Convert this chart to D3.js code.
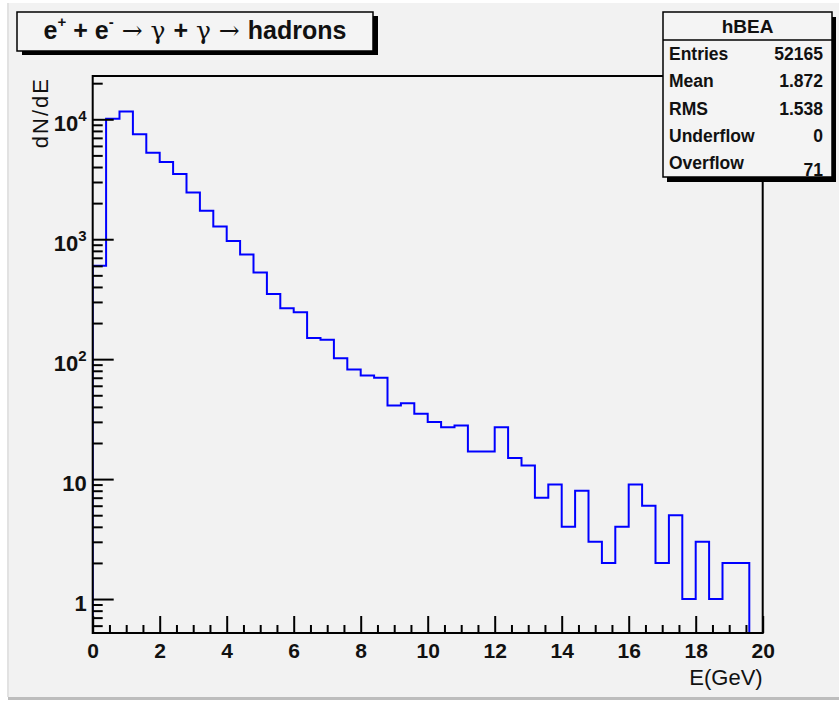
<!DOCTYPE html>
<html>
<head>
<meta charset="utf-8">
<script src="https://cdn.jsdelivr.net/npm/d3@7"></script>
<style>
  body { margin: 0; background: #fff; }
  text { font-family: "Liberation Sans", Arial, sans-serif; fill: #111; }
</style>
</head>
<body>
<script>
// bin lower edges (GeV), bin width 0.4
let binEdges = [0, 0.4, 0.8, 1.2, 1.6, 2, 2.4, 2.8, 3.2, 3.6,
    4, 4.4, 4.8, 5.2, 5.6, 6, 6.4, 6.8, 7.2, 7.6,
    8, 8.4, 8.8, 9.2, 9.6, 10, 10.4, 10.8, 11.2, 11.6,
    12, 12.4, 12.8, 13.2, 13.6, 14, 14.4, 14.8, 15.2, 15.6,
    16, 16.4, 16.8, 17.2, 17.6, 18, 18.4, 18.8, 19.2, 19.6]
let binWidth = 0.4

// dN/dE counts
let counts = [600, 10100, 11600, 7500, 5270, 4400, 3500, 2450, 1730, 1275,
    968, 745, 527, 350, 266, 246, 150, 145, 102, 82,
    73, 70, 41, 43, 35, 30, 27, 28, 17, 17,
    27, 15, 13, 7, 9, 4, 8, 3, 2, 4,
    9, 6, 2, 5, 1, 3, 1, 2, 2, 0]

let xMajor = [0, 2, 4, 6, 8, 10, 12, 14, 16, 18, 20]
let xMinor = [0.5, 1, 1.5, 2.5, 3, 3.5, 4.5, 5, 5.5, 6.5, 7, 7.5, 8.5, 9, 9.5,
    10.5, 11, 11.5, 12.5, 13, 13.5, 14.5, 15, 15.5, 16.5, 17, 17.5, 18.5, 19, 19.5]
let yMajor = [1, 10, 100, 1000, 10000]
let yMajorLabels = [['1', ''], ['10', ''], ['10', '2'], ['10', '3'], ['10', '4']]
let yMinor = [0.6, 0.7, 0.8, 0.9, 2, 3, 4, 5, 6, 7, 8, 9, 20, 30, 40, 50, 60, 70, 80, 90,
    200, 300, 400, 500, 600, 700, 800, 900, 2000, 3000, 4000, 5000, 6000, 7000, 8000, 9000, 20000]

let statNames = ['Entries', 'Mean', 'RMS', 'Underflow', 'Overflow']
let statValues = ['52165', '1.872', '1.538', '0', '71']

// frame geometry
let frameL = 92.7, frameR = 762.7, frameT = 76, frameB = 633

let svg = d3.select('body').append('svg')
    .attr('width', 839)
    .attr('height', 702)

// canvas background
svg.append('rect')
    .attr('x', 8).attr('y', 3).attr('width', 831).attr('height', 694)
    .attr('fill', '#f2f2f2')
svg.append('line')
    .attr('x1', 8).attr('x2', 8).attr('y1', 3).attr('y2', 697)
    .attr('stroke', '#e2e2e2').attr('stroke-width', 2)
svg.append('line')
    .attr('x1', 8).attr('x2', 839).attr('y1', 698.5).attr('y2', 698.5)
    .attr('stroke', '#bdbdbd').attr('stroke-width', 3)

// scales
let xScale = d3.scaleLinear()
    .domain([0, 20])
    .range([frameL, frameR])

let yScale = d3.scaleLog()
    .domain([0.521, 22960])
    .range([frameB, frameT])

svg.append('clipPath').attr('id', 'frameclip')
    .append('rect')
    .attr('x', frameL).attr('y', frameT)
    .attr('width', frameR - frameL).attr('height', frameB - frameT)

// histogram outline
let pts = [[0, yScale.domain()[0]]]
counts.forEach(function(c, i) {
    let v = c > 0 ? c : yScale.domain()[0]
    pts.push([binEdges[i], v])
    pts.push([binEdges[i] + binWidth, v])
})

let line = d3.line()
    .x(function(d) { return xScale(d[0]) })
    .y(function(d) { return yScale(d[1]) })

svg.append('path')
    .attr('d', line(pts))
    .attr('fill', 'none')
    .attr('stroke', '#0000ff')
    .attr('stroke-width', 2)
    .attr('clip-path', 'url(#frameclip)')

// frame
svg.append('rect')
    .attr('x', frameL).attr('y', frameT)
    .attr('width', frameR - frameL).attr('height', frameB - frameT)
    .attr('fill', 'none')
    .attr('stroke', '#000')
    .attr('stroke-width', 2)

// x axis
let xAxisMajor = svg.append('g')
    .attr('transform', 'translate(0,' + frameB + ')')
    .call(d3.axisBottom(xScale).tickValues(xMajor).tickSizeInner(-17).tickSizeOuter(0).tickPadding(0))
let xAxisMinor = svg.append('g')
    .attr('transform', 'translate(0,' + frameB + ')')
    .call(d3.axisBottom(xScale).tickValues(xMinor).tickSizeInner(-8).tickSizeOuter(0).tickFormat(''))

xAxisMajor.selectAll('text')
    .attr('y', 25).attr('dy', 0)
    .style('font-size', '21px').style('font-weight', 'bold')

// y axis
let yAxisMajor = svg.append('g')
    .attr('transform', 'translate(' + frameL + ',0)')
    .call(d3.axisLeft(yScale).tickValues(yMajor).tickSizeInner(-21).tickSizeOuter(0).tickPadding(6).tickFormat(''))
let yAxisMinor = svg.append('g')
    .attr('transform', 'translate(' + frameL + ',0)')
    .call(d3.axisLeft(yScale).tickValues(yMinor).tickSizeInner(-10).tickSizeOuter(0).tickFormat(''))

yAxisMajor.selectAll('text')
    .attr('dy', 11)
    .style('font-size', '22px').style('font-weight', 'bold')
    .each(function(d, i) {
        let t = d3.select(this)
        t.append('tspan').text(yMajorLabels[i][0])
        if (yMajorLabels[i][1] !== '') {
            t.append('tspan').attr('dy', -10).style('font-size', '15px').text(yMajorLabels[i][1])
        }
    })

svg.selectAll('.domain').remove()
svg.selectAll('.tick line').attr('stroke', '#000').attr('stroke-width', 2)

// axis titles
svg.append('text')
    .attr('x', frameR).attr('y', 685)
    .attr('text-anchor', 'end')
    .style('font-size', '22px')
    .text('E(GeV)')

svg.append('text')
    .attr('transform', 'translate(48,' + (frameT + 1) + ') rotate(-90)')
    .attr('text-anchor', 'end')
    .style('font-size', '22px')
    .attr('letter-spacing', 2)
    .text('dN/dE')

// title box
svg.append('rect')
    .attr('x', 22).attr('y', 16).attr('width', 356).attr('height', 39)
    .attr('fill', '#000')
svg.append('rect')
    .attr('x', 17).attr('y', 12).attr('width', 356).attr('height', 39)
    .attr('fill', '#f4f4f4').attr('stroke', '#000').attr('stroke-width', 1.5)

let title = svg.append('text')
    .attr('x', 195).attr('y', 39)
    .attr('text-anchor', 'middle')
    .style('font-size', '25px')
    .style('font-weight', 'bold')
title.append('tspan').text('e')
title.append('tspan').attr('dy', -12).style('font-size', '15px').text('+')
title.append('tspan').attr('dy', 12).text(' + e')
title.append('tspan').attr('dy', -12).style('font-size', '15px').text('-')
title.append('tspan').attr('dy', 12).style('font-weight', 'normal').style('font-family', 'DejaVu Serif, serif').text(' \u2192 \u03b3 ')
title.append('tspan').text('+')
title.append('tspan').style('font-weight', 'normal').style('font-family', 'DejaVu Serif, serif').text(' \u03b3 \u2192 ')
title.append('tspan').text('hadrons')

// stats box
let sx = 663, sy = 12, sw = 169, sh = 165
svg.append('rect')
    .attr('x', sx + 4).attr('y', sy + 5).attr('width', sw).attr('height', sh)
    .attr('fill', '#000')
svg.append('rect')
    .attr('x', sx).attr('y', sy).attr('width', sw).attr('height', sh)
    .attr('fill', '#f4f4f4').attr('stroke', '#000').attr('stroke-width', 1.5)
svg.append('line')
    .attr('x1', sx).attr('x2', sx + sw).attr('y1', 40).attr('y2', 40)
    .attr('stroke', '#000').attr('stroke-width', 1.5)
svg.append('text')
    .attr('x', sx + sw / 2).attr('y', 33)
    .attr('text-anchor', 'middle')
    .style('font-size', '19px').style('font-weight', 'bold')
    .text('hBEA')

let rowH = 27.4
statNames.forEach(function(name, i) {
    let cy = 40 + rowH * (i + 0.5)
    svg.append('text')
        .attr('x', 669).attr('y', cy + 6)
        .style('font-size', '17.5px').style('font-weight', 'bold')
        .text(name)
    svg.append('text')
        .attr('x', 823).attr('y', cy + 6 + (i === 4 ? 7 : 0))
        .attr('text-anchor', 'end')
        .style('font-size', '17.5px').style('font-weight', 'bold')
        .text(statValues[i])
})
</script>
</body>
</html>
